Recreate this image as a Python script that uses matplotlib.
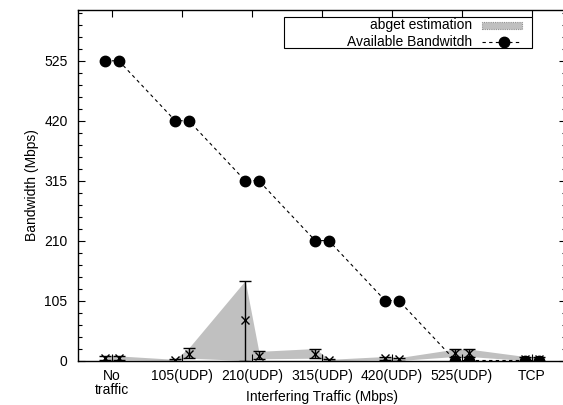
import matplotlib
matplotlib.use("Agg")
import matplotlib.pyplot as plt
import numpy as np
from matplotlib.ticker import MultipleLocator
from matplotlib.patches import Rectangle
from matplotlib.lines import Line2D

plt.rcParams['font.family'] = ['Liberation Sans', 'DejaVu Sans']

categories = ["No\ntraffic", "105(UDP)", "210(UDP)", "315(UDP)", "420(UDP)", "525(UDP)", "TCP"]
avail_bw = [525, 525, 420, 420, 315, 315, 210, 210, 105, 105, 0, 0, 0, 0]
abget_mean = [4, 4, 1, 12, 71, 8, 11, 1, 4, 2, 13, 13, 2, 2]
abget_hi = [8, 8, 2, 22, 140, 16, 21, 2, 7, 5, 20, 20, 7, 7]
abget_lo = [1, 1, 0, 4, 0, 3, 4, 0, 1, 0, 7, 7, 0, 0]
yticks = [0, 105, 210, 315, 420, 525]
legend_labels = ["abget estimation", "Available Bandwitdh"]

n = len(categories)
centers = np.arange(n)
off = 0.097
xs = np.ravel([[c - off, c + off] for c in centers])

W, H = 563, 405
FS = 10
fig = plt.figure(figsize=(W / 100, H / 100), dpi=100)
left, right, top, bottom = 78, 566, 10, 360.5
ax = fig.add_axes([left / W, (H - bottom) / H, (right - left) / W, (bottom - top) / H])

def fx(px):
    return (px - left) / (right - left)

def fy(py):
    return (bottom - py) / (bottom - top)

mean = np.array(abget_mean, float)
hi = np.array(abget_hi, float)
lo = np.array(abget_lo, float)

ax.fill_between(xs, lo, hi, color='#c0c0c0', linewidth=0, zorder=1)
ax.errorbar(xs, mean, yerr=[mean - lo, hi - mean], fmt='x', color='black',
            ms=6, mew=1.0, elinewidth=1.0, capsize=4, capthick=1.0, zorder=3)
ax.plot(xs, avail_bw, color='black', linestyle=(0, (3, 3)), linewidth=0.8,
        marker='o', markersize=7.5, zorder=4)

ax.set_xlim(-0.486, n - 1 + 0.486)
ax.set_ylim(0, 614)
ax.set_xticks(centers)
ax.set_xticklabels(categories, fontsize=FS, linespacing=1.0)
ax.set_yticks(yticks)
ax.set_yticklabels([str(v) for v in yticks], fontsize=FS)
ax.yaxis.set_minor_locator(MultipleLocator(21))
ax.tick_params(axis='both', which='major', direction='in', length=5, width=0.8,
               top=True, right=True)
ax.tick_params(axis='x', which='major', pad=6)
ax.tick_params(axis='y', which='major', pad=7.5)
ax.tick_params(axis='y', which='minor', direction='in', length=3, width=0.8, right=True)
for s in ax.spines.values():
    s.set_linewidth(1.0)

ax.set_xlabel('Interfering Traffic (Mbps)', fontsize=FS, va='center')
ax.xaxis.set_label_coords(0.5, fy(397.5))
ax.set_ylabel('Bandwidth (Mbps)', fontsize=FS, va='center')
ax.yaxis.set_label_coords(fx(32), 0.5)

# gnuplot-style key drawn by hand
ax.add_patch(Rectangle((fx(284), fy(48)), fx(532) - fx(284), fy(17) - fy(48),
                       transform=ax.transAxes, facecolor='white', edgecolor='black',
                       linewidth=0.8, zorder=5))
row_y = [25, 41.5]
ax.text(fx(472), fy(row_y[0]), legend_labels[0], transform=ax.transAxes,
        ha='right', va='center', fontsize=FS, zorder=6)
ax.text(fx(472), fy(row_y[1]), legend_labels[1], transform=ax.transAxes,
        ha='right', va='center', fontsize=FS, zorder=6)
ax.add_patch(Rectangle((fx(482), fy(row_y[0] + 3.5)), fx(522) - fx(482), fy(row_y[0] - 3.5) - fy(row_y[0] + 3.5),
                       transform=ax.transAxes, facecolor='#c0c0c0', edgecolor='#909090',
                       linestyle=(0, (1, 1)), linewidth=0.8, zorder=6))
ax.add_line(Line2D([fx(482), fx(522)], [fy(row_y[1])] * 2, transform=ax.transAxes,
                   color='black', linestyle=(0, (3, 3)), linewidth=0.8, zorder=6))
ax.add_line(Line2D([fx(504)], [fy(row_y[1])], transform=ax.transAxes,
                   color='black', marker='o', markersize=7.5, linestyle='none', zorder=7))

fig.savefig('out.png', dpi=100)
